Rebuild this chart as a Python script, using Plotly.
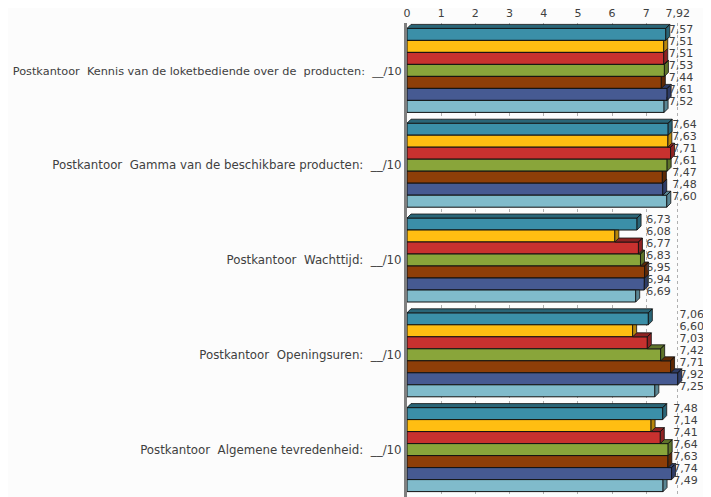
import plotly.graph_objects as go

# ---------------- data ----------------
categories = [
    "Postkantoor  Kennis van de loketbediende over de  producten:  __/10",
    "Postkantoor  Gamma van de beschikbare producten:  __/10",
    "Postkantoor  Wachttijd:  __/10",
    "Postkantoor  Openingsuren:  __/10",
    "Postkantoor  Algemene tevredenheid:  __/10",
]
series_names = ["Reeks 1", "Reeks 2", "Reeks 3", "Reeks 4", "Reeks 5", "Reeks 6", "Reeks 7"]
s1 = [7.57, 7.64, 6.73, 7.06, 7.48]
s2 = [7.51, 7.63, 6.08, 6.60, 7.14]
s3 = [7.51, 7.71, 6.77, 7.03, 7.41]
s4 = [7.53, 7.61, 6.83, 7.42, 7.64]
s5 = [7.44, 7.47, 6.95, 7.71, 7.63]
s6 = [7.61, 7.48, 6.94, 7.92, 7.74]
s7 = [7.52, 7.60, 6.69, 7.25, 7.49]
series_values = [s1, s2, s3, s4, s5, s6, s7]
tick_vals = [0, 1, 2, 3, 4, 5, 6, 7, 7.92]
tick_text = ["0", "1", "2", "3", "4", "5", "6", "7", "7,92"]

# ---------------- style ----------------
front_colors = ["#3B8FA8", "#FFBE12", "#C8312F", "#89A53A", "#8E3E08", "#465A92", "#80BBCB"]
side_colors = ["#2A6577", "#B8860B", "#8E2222", "#5F742A", "#5E2905", "#2E3C66", "#5A8694"]

# page has an 8px body margin, so the figure is sized to the visible area
W, H = 703, 489
ML, MR, MT, MB = 399, 10, 15, 0
XMAX = 8.6
px_x = (W - ML - MR) / XMAX
px_y = (H - MT - MB) / 5.0
DX = 4 / px_x
DY = 4 / px_y
BH = 12 / px_y  # bar thickness in category units

FONT = "DejaVu Sans"

def nb(s):
    return s.replace("  ", " \u00a0")

def fit(s):
    # longest label is set a little smaller so it stays inside the page
    if len(s) > 60:
        return '<span style="font-size:11.3px">' + nb(s) + "</span>"
    return nb(s)

fig = go.Figure()

n_s = len(series_values)
ypos = [[i + (j - (n_s - 1) / 2) * BH for i in range(len(categories))] for j in range(n_s)]

# front faces (bars)
for j in range(n_s):
    fig.add_trace(go.Bar(
        x=series_values[j], y=ypos[j], orientation="h", width=BH,
        name=series_names[j], marker=dict(color=front_colors[j], line=dict(color="#111111", width=1)),
        hoverinfo="skip", showlegend=False,
    ))

# 3D side and top faces, drawn from the lowest series up
for j in reversed(range(n_s)):
    xs, ys = [], []
    for i in range(len(categories)):
        v = series_values[j][i]
        u = series_values[j - 1][i] if j > 0 else 0.0
        yc = ypos[j][i]
        yt, yb = yc - BH / 2, yc + BH / 2
        # side face
        if j == 0 or u <= v:
            poly = [(v, yb), (v, yt), (v + DX, yt - DY), (v + DX, yb - DY)]
        elif u >= v + DX:
            poly = [(v, yb), (v, yt), (v + DX, yt), (v + DX, yb - DY)]
        else:
            f = (u - v) / DX
            poly = [(v, yb), (v, yt), (u, yt), (u, yt - DY * f), (v + DX, yt - DY), (v + DX, yb - DY)]
        for p in poly + [poly[0]]:
            xs.append(p[0]); ys.append(p[1])
        xs.append(None); ys.append(None)
        # top face (visible part)
        if v > u:
            poly = [(u, yt), (v, yt), (v + DX, yt - DY), (u + DX, yt - DY)]
            for p in poly + [poly[0]]:
                xs.append(p[0]); ys.append(p[1])
            xs.append(None); ys.append(None)
    fig.add_trace(go.Scatter(
        x=xs, y=ys, mode="lines", fill="toself", fillcolor=side_colors[j],
        line=dict(color="#111111", width=0.8), hoverinfo="skip", showlegend=False,
    ))

# value labels
for j in range(n_s):
    lx = [max(series_values[k][i] for k in range(n_s)) + 0.05 for i in range(len(categories))]
    ly = [y - 4 / px_y for y in ypos[j]]
    txt = [f"{v:.2f}".replace(".", ",") for v in series_values[j]]
    fig.add_trace(go.Scatter(
        x=lx, y=ly, mode="text", text=txt, textposition="middle right",
        textfont=dict(family=FONT, size=11, color="#404040"),
        hoverinfo="skip", showlegend=False, cliponaxis=False,
    ))

fig.update_layout(
    width=W, height=H,
    margin=dict(l=ML, r=MR, t=MT, b=MB),
    paper_bgcolor="#FCFCFC", plot_bgcolor="#FCFCFC",
    barmode="overlay",
    font=dict(family=FONT, size=11, color="#404040"),
    xaxis=dict(
        side="top", range=[0, XMAX], tickvals=tick_vals, ticktext=tick_text,
        showgrid=True, gridcolor="#B0B0B0", griddash="dot", gridwidth=1,
        zeroline=False, showline=False, ticks="", tickfont=dict(size=11),
        fixedrange=True, automargin=False, ticklabelstandoff=3,
    ),
    yaxis=dict(
        range=[4.5, -0.5], tickvals=list(range(len(categories))),
        ticktext=[fit(c) for c in categories],
        showgrid=False, zeroline=False, showline=True, linecolor="#7F7F7F", linewidth=3,
        ticks="", tickfont=dict(size=11.8), fixedrange=True, automargin=False,
    ),
)

fig.write_html("out.html")
